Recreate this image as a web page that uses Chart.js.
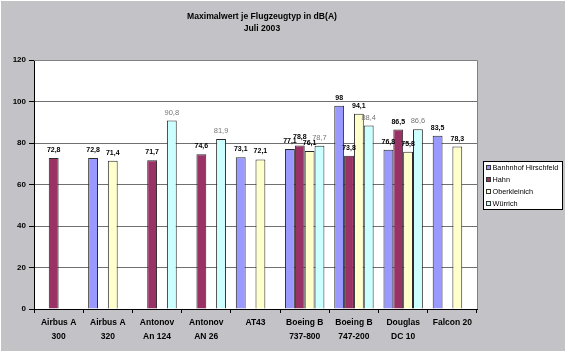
<!DOCTYPE html>
<html>
<head>
<meta charset="utf-8">
<title>Maximalwert je Flugzeugtyp</title>
<script src="https://cdn.jsdelivr.net/npm/chart.js@4.4.0/dist/chart.umd.min.js"></script>
<style>
  html, body { margin: 0; padding: 0; background: #ffffff; }
  #wrap { width: 567px; height: 353px; }
</style>
</head>
<body>
<div id="wrap"><canvas id="flugChart" width="567" height="353"></canvas></div>
<script>
// Chart data
const categories = [
  ['Airbus A', '300'], ['Airbus A', '320'], ['Antonov', 'An 124'], ['Antonov', 'AN 26'],
  ['AT43'], ['Boeing B', '737-800'], ['Boeing B', '747-200'], ['Douglas', 'DC 10'], ['Falcon 20']
];
const bahnhofHirschfeld = [null, 72.8, null, null, 73.1, 77.1, 98, 76.8, 83.5];
const hahn = [72.8, null, 71.7, 74.6, null, 78.8, 73.8, 86.5, null];
const oberkleinich = [null, 71.4, null, null, 72.1, 76.1, 94.1, 75.8, 78.3];
const wuerrich = [null, null, 90.8, 81.9, null, 78.7, 88.4, 86.6, null];
const yTicks = [0, 20, 40, 60, 80, 100, 120];

const titleLines = ['Maximalwert je Flugzeugtyp in dB(A)', 'Juli 2003'];
const FONT = 'Arial, "Liberation Sans", sans-serif';

/**
 * Background, plot area, title, legend and value labels
 */
const excelLook = {
  id: 'excelLook',
  beforeDraw(chart) {
    const { ctx, chartArea: a } = chart;
    ctx.save();
    ctx.fillStyle = '#ffffff';
    ctx.fillRect(0, 0, chart.width, chart.height);
    ctx.fillStyle = '#c3c2c6';
    ctx.fillRect(1, 1, chart.width - 3, chart.height - 3);
    ctx.fillStyle = '#ffffff';
    ctx.fillRect(a.left, a.top, a.right - a.left, a.bottom - a.top);
    ctx.restore();
  },
  afterDatasetsDraw(chart) {
    const { ctx } = chart;
    ctx.save();
    ctx.textAlign = 'center';
    ctx.textBaseline = 'alphabetic';
    chart.data.datasets.forEach((ds, i) => {
      const meta = chart.getDatasetMeta(i);
      ctx.font = ds.labelBold ? 'bold 7px ' + FONT : '7.5px ' + FONT;
      ctx.fillStyle = ds.labelColor;
      meta.data.forEach((bar, j) => {
        const v = ds.data[j];
        if (v === null) return;
        ctx.fillText(String(v).replace('.', ','), bar.x, bar.y - 6);
      });
    });
    ctx.restore();
  },
  afterDraw(chart) {
    const { ctx, chartArea: a } = chart;
    ctx.save();

    // plot area border (top / right)
    ctx.strokeStyle = '#808080';
    ctx.lineWidth = 1;
    ctx.beginPath();
    ctx.moveTo(a.left, a.top + 0.5);
    ctx.lineTo(a.right + 0.5, a.top + 0.5);
    ctx.lineTo(a.right + 0.5, a.bottom);
    ctx.stroke();

    // title
    ctx.fillStyle = '#000000';
    ctx.font = 'bold 8.6px ' + FONT;
    ctx.textAlign = 'center';
    ctx.textBaseline = 'middle';
    ctx.fillText(titleLines[0], 262, 17);
    ctx.fillText(titleLines[1], 262, 29);

    // legend
    const lx = 483, ly = 161, lw = 79, lh = 48;
    ctx.fillStyle = '#ffffff';
    ctx.fillRect(lx, ly, lw, lh);
    ctx.strokeStyle = '#000000';
    ctx.strokeRect(lx + 0.5, ly + 0.5, lw, lh);
    ctx.font = '7.3px ' + FONT;
    ctx.textAlign = 'left';
    chart.data.datasets.forEach((ds, i) => {
      const y = ly + 6.5 + i * 12;
      ctx.fillStyle = ds.backgroundColor;
      ctx.fillRect(lx + 3, y - 2.5, 5, 5);
      ctx.strokeStyle = '#333333';
      ctx.strokeRect(lx + 3.5, y - 2, 4, 4);
      ctx.fillStyle = '#000000';
      ctx.fillText(ds.label, lx + 9.5, y + 0.5);
    });
    ctx.restore();
  }
};

const makeSet = (label, data, color, labelBold, labelColor) => ({
  label: label,
  data: data,
  backgroundColor: color,
  borderColor: '#2a2a2a',
  borderWidth: 1,
  borderSkipped: 'bottom',
  categoryPercentage: 0.8,
  barPercentage: 1.0,
  labelBold: labelBold,
  labelColor: labelColor
});

const ctx = document.getElementById('flugChart').getContext('2d');
new Chart(ctx, {
  type: 'bar',
  data: {
    labels: categories,
    datasets: [
      makeSet('Banhnhof Hirschfeld', bahnhofHirschfeld, '#9999ff', true, '#000000'),
      makeSet('Hahn', hahn, '#993366', true, '#000000'),
      makeSet('Oberkleinich', oberkleinich, '#ffffcc', true, '#000000'),
      makeSet('Würrich', wuerrich, '#ccffff', false, '#777777')
    ]
  },
  options: {
    responsive: false,
    animation: false,
    events: [],
    layout: { padding: { left: 0, top: 60, right: 90, bottom: 0 } },
    plugins: {
      legend: { display: false },
      title: { display: false },
      tooltip: { enabled: false }
    },
    scales: {
      x: {
        afterFit: (scale) => { scale.height = 44; },
        grid: {
          offset: true,
          drawOnChartArea: false,
          tickLength: 4,
          tickColor: '#000000'
        },
        border: { display: true, color: '#000000' },
        ticks: {
          color: '#000000',
          padding: 3,
          maxRotation: 0,
          autoSkip: false,
          font: { family: FONT, size: 8.5, weight: 'bold', lineHeight: 1.6 }
        }
      },
      y: {
        min: 0,
        max: 120,
        afterFit: (scale) => { scale.width = 34; },
        afterBuildTicks: (scale) => { scale.ticks = yTicks.map(v => ({ value: v })); },
        grid: {
          color: '#707070',
          tickLength: 5,
          tickColor: '#000000'
        },
        border: { display: true, color: '#000000' },
        ticks: {
          color: '#000000',
          padding: 3,
          font: { family: FONT, size: 8, weight: 'bold' }
        }
      }
    }
  },
  plugins: [excelLook]
});
</script>
</body>
</html>
